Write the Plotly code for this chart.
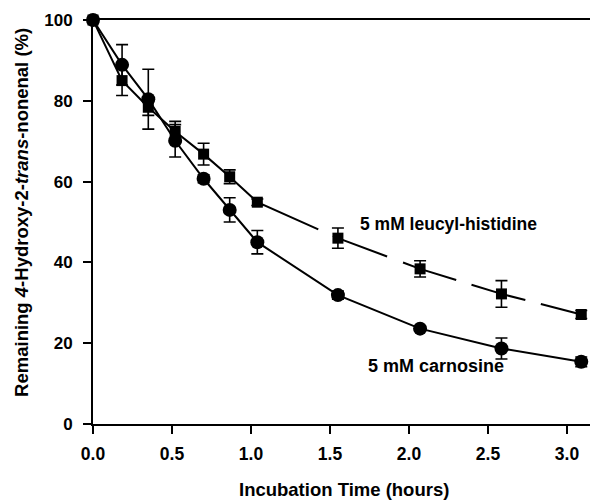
import plotly.graph_objects as go

# Incubation times as read from the plotted positions (hours)
time_h = [0.0, 0.184, 0.35, 0.52, 0.70, 0.865, 1.04, 1.55, 2.07, 2.585, 3.09]
carnosine = [100, 88.9, 80.4, 70.1, 60.7, 53.0, 45.0, 31.9, 23.6, 18.7, 15.4]
carnosine_err = [0, 5.0, 7.4, 4.0, 1.0, 3.0, 2.9, 1.0, 0.6, 2.6, 1.2]
leucyl = [100, 85.0, 78.4, 72.4, 66.8, 61.2, 54.9, 46.0, 38.4, 32.2, 27.1]
leucyl_err = [0, 3.7, 2.0, 2.5, 2.7, 1.7, 0.8, 2.5, 2.0, 3.3, 1.0]
x_ticks = [0.0, 0.5, 1.0, 1.5, 2.0, 2.5, 3.0]
x_tick_labels = ["0.0", "0.5", "1.0", "1.5", "2.0", "2.5", "3.0"]
y_ticks = [0, 20, 40, 60, 80, 100]
y_tick_labels = ["0", "20", "40", "60", "80", "100"]

FONT = "Liberation Sans, Arial, Helvetica, sans-serif"

fig = go.Figure()
fig.add_trace(go.Scatter(
    x=time_h, y=leucyl, mode="lines+markers",
    line=dict(color="black", width=2,
              dash="316px,16px,58px,17px,56px,16px,56px,16px,300px,10px"),
    marker=dict(symbol="square", size=11, color="black"),
    error_y=dict(type="data", array=leucyl_err, color="black", thickness=1.6, width=6),
    cliponaxis=False, showlegend=False,
))
fig.add_trace(go.Scatter(
    x=time_h, y=carnosine, mode="lines+markers",
    line=dict(color="black", width=2),
    marker=dict(symbol="circle", size=14, color="black"),
    error_y=dict(type="data", array=carnosine_err, color="black", thickness=1.6, width=6),
    cliponaxis=False, showlegend=False,
))

fig.add_annotation(x=1.677, y=49.5, xref="x", yref="y", text="<b>5 mM leucyl-histidine</b>",
                   showarrow=False, xanchor="left", yanchor="middle",
                   font=dict(family=FONT, size=17.5, color="black"))
fig.add_annotation(x=1.728, y=14.4, xref="x", yref="y", text="<b>5 mM carnosine</b>",
                   showarrow=False, xanchor="left", yanchor="middle",
                   font=dict(family=FONT, size=18, color="black"))

# Axis titles
fig.add_annotation(x=0.497, y=-0.161, xref="paper", yref="paper",
                   text="<b>Incubation Time (hours)</b>", showarrow=False,
                   xanchor="center", yanchor="middle",
                   font=dict(family=FONT, size=18.5, color="black"))
fig.add_annotation(x=-0.1406, y=0.525, xref="paper", yref="paper",
                   text="<b>Remaining <i>4</i>-Hydroxy-2-<i>trans</i>-nonenal (%)</b>",
                   showarrow=False, textangle=-90, xanchor="center", yanchor="middle",
                   font=dict(family=FONT, size=18.5, color="black"))

# The page body adds an 8px margin, so the figure is sized to fit the window.
fig.update_layout(
    width=590, height=492,
    margin=dict(l=85, r=0, t=12, b=76, autoexpand=False),
    plot_bgcolor="white", paper_bgcolor="white",
    font=dict(family=FONT, color="black"),
    xaxis=dict(
        range=[0, 3.196], tickvals=x_ticks, ticktext=["<b>%s</b>" % t for t in x_tick_labels],
        showgrid=False, zeroline=False, showline=True, linecolor="black", linewidth=2,
        mirror=True, ticks="outside", ticklen=8, tickwidth=2, tickcolor="black",
        tickfont=dict(family=FONT, size=17.5), ticklabelstandoff=5, automargin=False,
    ),
    yaxis=dict(
        range=[0, 100], tickvals=y_ticks, ticktext=["<b>%s</b>" % t for t in y_tick_labels],
        showgrid=False, zeroline=False, showline=True, linecolor="black", linewidth=2,
        mirror=True, ticks="outside", ticklen=8, tickwidth=2, tickcolor="black",
        tickfont=dict(family=FONT, size=17), ticklabelstandoff=7, automargin=False,
    ),
)

fig.write_html("out.html")
